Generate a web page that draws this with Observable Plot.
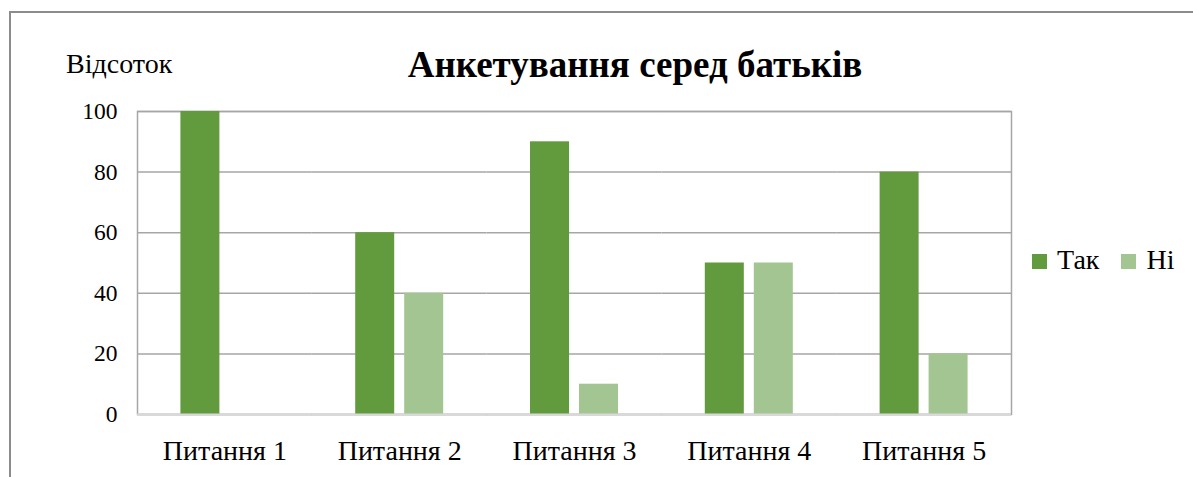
<!DOCTYPE html>
<html>
<head>
<meta charset="utf-8">
<script src="https://cdn.jsdelivr.net/npm/d3@7"></script>
<script src="https://cdn.jsdelivr.net/npm/@observablehq/plot@0.6"></script>
<style>
  html, body { margin: 0; padding: 0; background: #fff; }
  body { width: 1193px; height: 477px; position: relative; overflow: hidden; font-family: "Liberation Serif", "Times New Roman", serif; color: #000; }
  #frame { position: absolute; left: 9px; top: 11px; width: 1400px; height: 700px; border: 2px solid #8c8c8c; box-sizing: border-box; }
  #chart { position: absolute; left: 0; top: 0; }
  #title { position: absolute; left: 0; width: 1270px; top: 43px; text-align: center; font-weight: bold; font-size: 37px; line-height: normal; font-family: "Liberation Serif", "Times New Roman", serif; }
  #ylabel { position: absolute; left: 66px; top: 48px; font-size: 28px; line-height: normal; font-family: "Liberation Serif", "Times New Roman", serif; }
  #legend { position: absolute; left: 1032px; top: 244px; font-size: 28px; line-height: normal; display: flex; align-items: center; font-family: "Liberation Serif", "Times New Roman", serif; }
  #legend .item { display: flex; align-items: center; margin-right: 22px; }
  #legend .sw { width: 15px; height: 15px; margin-right: 10px; margin-top: 2px; }
</style>
</head>
<body>
<div id="frame"></div>
<div id="chart"></div>
<div id="title"></div>
<div id="ylabel"></div>
<div id="legend"></div>
<script>
const questions = ["Питання 1", "Питання 2", "Питання 3", "Питання 4", "Питання 5"];
const seriesNames = ["Так", "Ні"];
const yesValues = [100, 60, 90, 50, 80];
const noValues = [0, 40, 10, 50, 20];
const yTicks = [0, 20, 40, 60, 80, 100];
const colors = ["#629A3E", "#A3C592"];
const titleText = "Анкетування серед батьків";
const yLabelText = "Відсоток";

const data = [];
questions.forEach((q, i) => {
  data.push({q, s: seriesNames[0], v: yesValues[i]});
  data.push({q, s: seriesNames[1], v: noValues[i]});
});

const chart = Plot.plot({
  width: 1193,
  height: 477,
  marginLeft: 137,
  marginRight: 182,
  marginTop: 111,
  marginBottom: 63,
  style: { fontFamily: "'Liberation Serif', 'Times New Roman', serif", color: "#000", background: "transparent" },
  fx: { domain: questions, padding: 0, round: false, label: null },
  x: { domain: seriesNames, paddingInner: 0.204, paddingOuter: 0.886, round: false, axis: null },
  y: { domain: [0, 100], label: null },
  color: { domain: seriesNames, range: colors },
  marks: [
    Plot.gridY(yTicks, { stroke: "#a6a6a6", strokeOpacity: 1, strokeWidth: 1.5 }),
    Plot.frame({ facet: "super", stroke: "#a6a6a6", strokeWidth: 1.5 }),
    Plot.barY(data, { fx: "q", x: "s", y: "v", fill: "s" }),
    Plot.ruleY([0], { stroke: "#d9d9d9", strokeWidth: 2 }),
    Plot.axisY({ ticks: yTicks, tickSize: 0, tickPadding: 20, fontSize: 23.5, label: null, fill: "#000" }),
    Plot.axisFx({ anchor: "bottom", tickSize: 0, tickPadding: 26, fontSize: 28, label: null, fill: "#000" })
  ]
});
document.getElementById("chart").appendChild(chart);
document.getElementById("title").textContent = titleText;
document.getElementById("ylabel").textContent = yLabelText;
const legend = document.getElementById("legend");
seriesNames.forEach((s, i) => {
  const item = document.createElement("div");
  item.className = "item";
  const sw = document.createElement("div");
  sw.className = "sw";
  sw.style.background = colors[i];
  const t = document.createElement("span");
  t.textContent = s;
  item.appendChild(sw);
  item.appendChild(t);
  legend.appendChild(item);
});
</script>
</body>
</html>
